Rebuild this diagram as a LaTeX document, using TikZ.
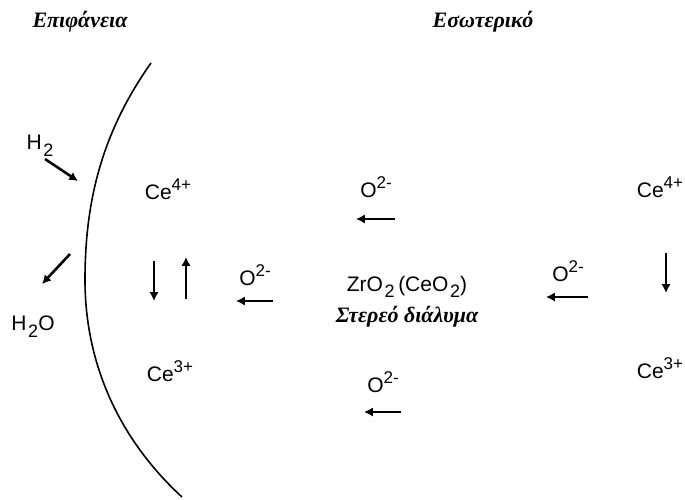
\documentclass[tikz,border=0pt]{standalone}
\usepackage{fontspec}
\setmainfont{Liberation Sans}
\newfontfamily\griego{Liberation Serif}
\usepackage{tikz}
\usetikzlibrary{arrows.meta}

% iones y subindices
\newcommand{\ionq}[2]{#1\raisebox{0.42em}{\fontsize{8.5}{10}\selectfont#2}}
\newcommand{\subq}[1]{\kern0.08em\raisebox{-0.32em}{\fontsize{9}{10}\selectfont#1}}

\begin{document}
\begin{tikzpicture}[x=0.5pt,y=-0.5pt,>={Latex[length=4.4pt,width=4.6pt]},
    especie/.style={font=\fontsize{10.5}{12}\selectfont,inner sep=0pt},
    titulo/.style={font=\fontsize{11}{13}\selectfont\griego\bfseries\itshape,inner sep=0pt},
    flecha/.style={->,line width=1.3pt}]

\useasboundingbox (0,0) rectangle (685,499);

% Superficie
\draw[line width=0.8pt]
    (151,63)
    .. controls (100,135) and (85,205) ..
    (85,280)
    .. controls (85,365) and (120,440) ..
    (182,497);

% Titulos
\node[titulo] (epif) at (80,22) {Επιφάνεια};
\node[titulo] (esot) at (483,22) {Εσωτερικό};

% Gases
\node[especie] (h2) at (40,146) {H\subq{2}};
\node[especie] (h2o) at (33,327) {H\subq{2}O};
\coordinate (h2s) at (45,159);
\coordinate (h2e) at (78,181);
\coordinate (h2os) at (70,254);
\coordinate (h2oe) at (42,284);
\draw[flecha] (h2s) -- (h2e);
\draw[flecha] (h2os) -- (h2oe);

% Cerio en la superficie
\node[especie] (ce4a) at (168,189) {\ionq{Ce}{4+}};
\node[especie] (ce3a) at (170,371) {\ionq{Ce}{3+}};
\coordinate (bja) at (154,261);
\coordinate (bjb) at (154,301);
\coordinate (sba) at (186,299);
\coordinate (sbb) at (186,257);
\draw[flecha] (bja) -- (bjb);
\draw[flecha] (sba) -- (sbb);

% Oxigeno
\node[especie] (o1) at (376,187) {\ionq{O}{2-}};
\node[especie] (o2) at (255,275) {\ionq{O}{2-}};
\node[especie] (o3) at (383,382) {\ionq{O}{2-}};
\node[especie] (o4) at (568,271) {\ionq{O}{2-}};
\coordinate (o1s) at (395,219);
\coordinate (o1e) at (356,219);
\coordinate (o2s) at (273,301);
\coordinate (o2e) at (236,301);
\coordinate (o3s) at (401,412);
\coordinate (o3e) at (364,412);
\coordinate (o4s) at (588,297);
\coordinate (o4e) at (546,297);
\draw[flecha] (o1s) -- (o1e);
\draw[flecha] (o2s) -- (o2e);
\draw[flecha] (o3s) -- (o3e);
\draw[flecha] (o4s) -- (o4e);

% Solucion solida
\node[especie] (zro2) at (407,287) {ZrO\subq{2}\,(CeO\subq{2})};
\node[titulo] (sol) at (407,317) {Στερεό διάλυμα};

% Cerio en el interior
\node[especie] (ce4b) at (660,187) {\ionq{Ce}{4+}};
\node[especie] (ce3b) at (660,368) {\ionq{Ce}{3+}};
\coordinate (bjc) at (666,253);
\coordinate (bjd) at (666,293);
\draw[flecha] (bjc) -- (bjd);

\end{tikzpicture}
\end{document}
